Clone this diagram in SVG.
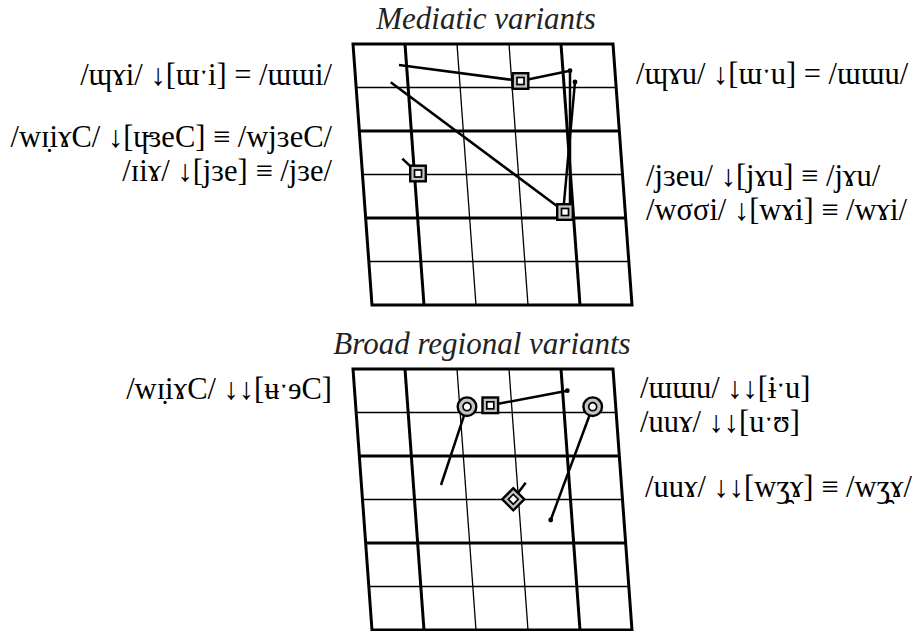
<svg xmlns="http://www.w3.org/2000/svg" xmlns:xlink="http://www.w3.org/1999/xlink" width="923" height="631" viewBox="0 0 923 631">
<style>
.thk{stroke:#000;stroke-width:3;fill:none}
.thn{stroke:#000;stroke-width:1.3;fill:none}
.tr{stroke:#000;stroke-width:2.5;fill:none;stroke-linecap:butt}
.dot{fill:#000}
</style>
<defs>
<g id="grid">
<g class="thn">
<line x1="104" y1="0" x2="104" y2="261"/>
<line x1="156" y1="0" x2="156" y2="261"/>
<line x1="0" y1="43.5" x2="260" y2="43.5"/>
<line x1="0" y1="130.5" x2="260" y2="130.5"/>
<line x1="0" y1="217.5" x2="260" y2="217.5"/>
</g>
<g class="thk">
<line x1="52" y1="0" x2="52" y2="261"/>
<line x1="208" y1="0" x2="208" y2="261"/>
<line x1="0" y1="87" x2="260" y2="87"/>
<line x1="0" y1="174" x2="260" y2="174"/>
<rect x="0" y="0" width="260" height="261"/>
</g>
</g>
<g id="sq"><rect x="-7.8" y="-7.8" width="15.6" height="15.6" fill="#c4c4c4" stroke="#000" stroke-width="2.4"/><rect x="-3.5" y="-3.5" width="7" height="7" fill="#fff" stroke="#000" stroke-width="1.7"/></g>
<g id="ci"><circle r="9.3" fill="#c4c4c4" stroke="#000" stroke-width="2.4"/><circle r="4" fill="#fff" stroke="#000" stroke-width="1.7"/></g>
</defs>

<g id="texts" font-family="Liberation Serif" font-size="30.5" fill="#000">
<text font-family="Liberation Serif" font-size="31" font-style="italic" fill="#222" x="486" y="29" text-anchor="middle">Mediatic variants</text>
<text font-family="Liberation Serif" x="332" y="85" text-anchor="end">/ɰɤi/ ↓[ɯˑi] = /ɯɯi/</text>
<text font-family="Liberation Serif" x="332" y="147" text-anchor="end">/wɪ̣iɤC/ ↓[ɥ̵ɜeC] ≡ /wjɜeC/</text>
<text font-family="Liberation Serif" x="332" y="181" text-anchor="end">/ɪiɤ/ ↓[jɜe] ≡ /jɜe/</text>
<text font-family="Liberation Serif" x="636" y="84">/ɰɤu/ ↓[ɯˑu] = /ɯɯu/</text>
<text font-family="Liberation Serif" x="646" y="186">/jɜeu/ ↓[jɤu] ≡ /jɤu/</text>
<text font-family="Liberation Serif" x="646" y="220">/wσσi/ ↓[wɤi] ≡ /wɤi/</text>
<text font-family="Liberation Serif" font-size="31" font-style="italic" fill="#222" x="482" y="354" text-anchor="middle">Broad regional variants</text>
<text font-family="Liberation Serif" x="332" y="399" text-anchor="end">/wɪ̣iɤC/ ↓↓[ʉˑɘC]</text>
<text font-family="Liberation Serif" x="640" y="398">/ɯɯu/ ↓↓[ɨˑu]</text>
<text font-family="Liberation Serif" x="640" y="432">/uuɤ/ ↓↓[uˑʊ]</text>
<text font-family="Liberation Serif" x="645" y="497">/uuɤ/ ↓↓[wʒ̯ɤ] ≡ /wʒ̯ɤ/</text>
</g>

<g id="grid-top" transform="translate(353,44) skewX(4.16)"><use xlink:href="#grid" href="#grid"/></g>
<g id="grid-bottom" transform="translate(353,369) skewX(4.16)"><use xlink:href="#grid" href="#grid"/></g>

<g id="connectors">
<line class="tr" x1="399" y1="65" x2="520.5" y2="81"/>
<line class="tr" x1="520.5" y1="81" x2="570" y2="70.7"/>
<line class="tr" x1="390.7" y1="82.3" x2="565" y2="212"/>
<line class="tr" x1="402.3" y1="158.7" x2="418" y2="173.5"/>
<line class="tr" x1="570" y1="70.7" x2="570" y2="208"/>
<line class="tr" x1="575" y1="82" x2="563.5" y2="208"/>
<circle class="dot" cx="570" cy="70.7" r="2.4"/>
<circle class="dot" cx="575" cy="82" r="2.4"/>
<line class="tr" x1="490.3" y1="405.3" x2="567.3" y2="390.7"/>
<line class="tr" x1="467" y1="406.7" x2="441" y2="485"/>
<line class="tr" x1="592.7" y1="406.7" x2="550.7" y2="520"/>
<line class="tr" x1="513.3" y1="499.3" x2="525.7" y2="482.7"/>
<circle class="dot" cx="567.3" cy="390.7" r="2.4"/>
<circle class="dot" cx="550.7" cy="520" r="2.4"/>
</g>

<g id="m-top-1"><use xlink:href="#sq" href="#sq" x="520.5" y="81"/></g>
<g id="m-top-2"><use xlink:href="#sq" href="#sq" x="418" y="173.5"/></g>
<g id="m-top-3"><use xlink:href="#sq" href="#sq" x="565" y="212"/></g>
<g id="m-bot-1"><use xlink:href="#ci" href="#ci" x="467" y="406.7"/></g>
<g id="m-bot-2"><use xlink:href="#sq" href="#sq" x="490.3" y="405.3"/></g>
<g id="m-bot-3"><use xlink:href="#ci" href="#ci" x="592.7" y="406.7"/></g>
<g id="m-bot-4"><use xlink:href="#sq" href="#sq" transform="translate(513.3,499.3) rotate(45)"/></g>
</svg>
